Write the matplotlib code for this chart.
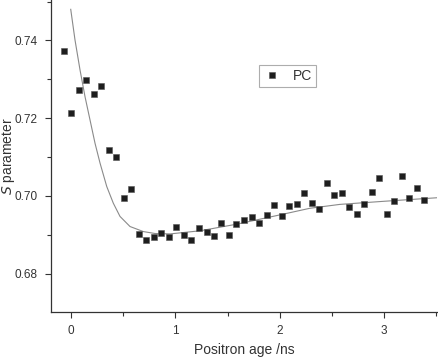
import matplotlib
matplotlib.use("Agg")
import matplotlib.pyplot as plt
from matplotlib.ticker import MultipleLocator

plt.rcParams['font.family'] = ['Liberation Sans', 'DejaVu Sans']

# Measured points (positron age in ns, S parameter)
age_ns = [-0.070, 0.000, 0.077, 0.147, 0.217, 0.287, 0.361, 0.434, 0.505, 0.578,
          0.651, 0.721, 0.795, 0.865, 0.939, 1.009, 1.082, 1.152, 1.226, 1.300,
          1.370, 1.440, 1.513, 1.583, 1.657, 1.731, 1.801, 1.874, 1.944, 2.018,
          2.088, 2.162, 2.232, 2.306, 2.378, 2.449, 2.522, 2.593, 2.663, 2.737,
          2.809, 2.880, 2.953, 3.024, 3.097, 3.168, 3.240, 3.311, 3.384]
s_param = [0.7373, 0.7214, 0.7272, 0.7297, 0.7262, 0.7283, 0.7119, 0.7099, 0.6994, 0.7018,
           0.6903, 0.6887, 0.6895, 0.6905, 0.6893, 0.6921, 0.6900, 0.6886, 0.6916, 0.6908,
           0.6897, 0.6930, 0.6899, 0.6927, 0.6938, 0.6946, 0.6931, 0.6950, 0.6977, 0.6947,
           0.6975, 0.6980, 0.7008, 0.6981, 0.6967, 0.7032, 0.7001, 0.7006, 0.6970, 0.6954,
           0.6979, 0.7009, 0.7045, 0.6953, 0.6987, 0.7052, 0.6995, 0.7019, 0.6988]

# Fitted curve
fit_age = [-0.003, 0.038, 0.086, 0.134, 0.182, 0.230, 0.278, 0.342, 0.405, 0.469,
           0.565, 0.693, 0.805, 0.949, 1.236, 1.587, 2.002, 2.289, 2.577, 3.001, 3.503]
fit_s = [0.7480, 0.7401, 0.7324, 0.7255, 0.7195, 0.7135, 0.7084, 0.7024, 0.6981, 0.6947,
         0.6921, 0.6908, 0.6903, 0.6902, 0.6910, 0.6927, 0.6951, 0.6968, 0.6978, 0.6986, 0.6995]

x_ticks = [0, 1, 2, 3]
y_ticks = [0.68, 0.70, 0.72, 0.74]
y_tick_labels = ["0.68", "0.70", "0.72", "0.74"]

fig = plt.figure(figsize=(4.38, 3.59), dpi=100)
ax = fig.add_axes([51/438, 47/359, 386/438, 312/359])

ax.plot(fit_age, fit_s, color='#8a8a8a', lw=0.8, zorder=2)
ax.plot(age_ns, s_param, ls='none', marker='s', ms=4.8, mfc='#1e1e1e', mec='#555555',
        mew=0.4, label='PC', zorder=3)

ax.set_xlim(-0.192, 3.506)
ax.set_ylim(0.6701, 0.7504)
ax.set_xticks(x_ticks)
ax.set_yticks(y_ticks)
ax.set_yticklabels(y_tick_labels)
ax.xaxis.set_minor_locator(MultipleLocator(0.5))
ax.yaxis.set_minor_locator(MultipleLocator(0.01))

for s in ['top', 'right']:
    ax.spines[s].set_visible(False)
for s in ['left', 'bottom']:
    ax.spines[s].set_color('#333333')
    ax.spines[s].set_linewidth(0.9)

ax.tick_params(which='major', direction='out', length=4.5, width=0.8, color='#333333',
               labelsize=8.5, labelcolor='#333333', pad=5)
ax.tick_params(which='minor', direction='out', length=3, width=0.8, color='#333333')

ax.set_xlabel('Positron age /ns', fontsize=10, color='#333333', labelpad=4)
ax.set_ylabel(r'$\mathit{S}$ parameter', fontsize=10, color='#333333')
ax.yaxis.set_label_coords(-0.088, 0.5)

leg = ax.legend(loc='upper left', bbox_to_anchor=(0.539, 0.792), borderaxespad=0,
                frameon=True, fancybox=False, fontsize=10, handlelength=1.3,
                handletextpad=0.8, borderpad=0.3, labelcolor='#333333')
leg.get_frame().set_edgecolor('#999999')
leg.get_frame().set_linewidth(0.8)

fig.savefig('out.png', dpi=100)
